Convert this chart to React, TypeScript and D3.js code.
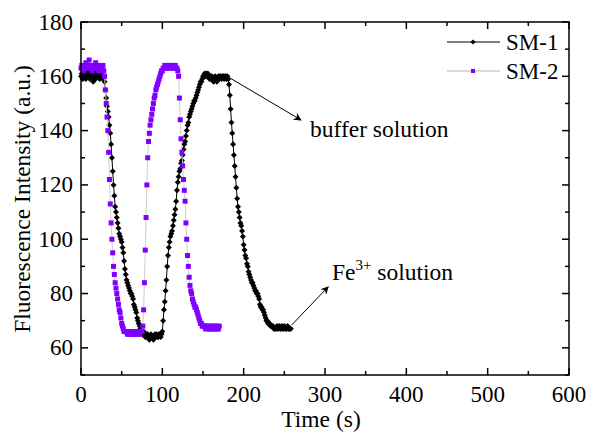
import * as d3 from 'd3'

// values read every 1 s from the picture
const sm1Value = [
  160, 161, 159, 160, 161, 160, 159, 160, 162, 161,
  160, 159, 160, 161, 160, 158, 160, 161, 159, 160,
  162, 161, 160, 159, 160, 161, 160, 159, 160, 158,
  155, 152, 149, 147, 145, 142, 139, 135, 130, 125,
  120, 116, 112, 110, 108, 106, 104, 102, 101, 100,
  99, 97, 95, 92, 89, 87, 85, 84, 83, 82,
  81, 80, 80, 79, 78, 76, 75, 74, 73, 71,
  70, 69, 68, 67, 66, 65, 65, 66, 65, 64,
  64, 65, 65, 64, 63, 64, 65, 64, 64, 63,
  64, 65, 64, 65, 64, 64, 65, 65, 64, 65,
  66, 70, 74, 77, 81, 85, 90, 94, 97, 99,
  101, 102, 103, 105, 107, 109, 111, 114, 118, 121,
  123, 125, 126, 128, 129, 131, 133, 135, 136, 138,
  140, 142, 143, 145, 146, 147, 148, 149, 150, 151,
  151, 152, 153, 154, 155, 156, 157, 158, 158, 159,
  160, 160, 161, 160, 161, 160, 161, 160, 159, 160,
  159, 160, 159, 158, 159, 160, 159, 158, 159, 160,
  159, 160, 160, 159, 160, 160, 159, 160, 160, 159,
  160, 159, 157, 153, 148, 143, 139, 135, 131, 127,
  123, 119, 115, 112, 110, 108, 106, 105, 103, 101,
  98, 96, 94, 93, 91, 90, 88, 87, 86, 85,
  84, 84, 83, 82, 81, 81, 80, 80, 79, 78,
  76, 75, 75, 74, 74, 73, 72, 71, 70, 70,
  69, 69, 69, 68, 68, 68, 68, 67, 67, 67,
  67, 68, 67, 67, 68, 67, 67, 68, 67, 67,
  68, 67, 67, 67, 68, 67, 67, 67, 67,
]
const sm1Time = d3.range(0, sm1Value.length)

const sm2Value = [
  163, 164, 163, 162, 164, 163, 165, 164, 163, 164,
  166, 163, 164, 163, 162, 164, 163, 164, 165, 163,
  164, 163, 162, 164, 163, 164, 163, 164, 162, 160,
  155, 150, 145, 140, 132, 122, 113, 106, 100, 95,
  90, 87, 84, 82, 80, 78, 76, 74, 73, 71,
  69, 68, 67, 66, 66, 66, 66, 65, 66, 66,
  65, 66, 66, 65, 66, 66, 65, 66, 66, 65,
  66, 66, 65, 66, 66, 66, 68, 74, 84, 96,
  108, 120, 130, 136, 139, 142, 144, 146, 148, 150,
  152, 153, 155, 156, 157, 158, 159, 160, 161, 162,
  162, 163, 163, 164, 163, 164, 163, 164, 164, 163,
  164, 163, 164, 163, 164, 163, 164, 163, 163, 162,
  160, 152, 144, 137, 132, 127, 122, 118, 114, 106,
  100, 94, 90, 86, 83, 81, 80, 78, 77, 76,
  75, 75, 74, 73, 72, 71, 70, 69, 69, 68,
  68, 68, 68, 67, 68, 68, 67, 68, 67, 67,
  68, 67, 68, 67, 67, 68, 67, 68, 67, 67,
  68,
]
const sm2Time = d3.range(0, sm2Value.length)

const xTicks = [0, 100, 200, 300, 400, 500, 600]
const yTicks = [60, 80, 100, 120, 140, 160, 180]

const W = 592
const H = 436
const m = { top: 22, right: 23, bottom: 61, left: 81 }
const FONT = "'Liberation Serif', 'Times New Roman', Times, 'DejaVu Serif', serif"
const PURPLE = '#8000ff'
const FS_TICK = 23
const FS = 23.5

export default function App() {
  const x = d3.scaleLinear().domain([0, 600]).range([m.left, W - m.right])
  const y = d3.scaleLinear().domain([50, 180]).range([H - m.bottom, m.top])
  const [x0, x1] = x.range()
  const [y0, y1] = y.range()

  const sm1 = sm1Time.map((t, i) => [t, sm1Value[i]] as [number, number])
  const sm2 = sm2Time.map((t, i) => [t, sm2Value[i]] as [number, number])
  const line = d3.line<[number, number]>().x(d => x(d[0])).y(d => y(d[1]))

  const xMinor = d3.range(50, 600, 100)
  const yMinor = d3.range(50, 181, 20)

  const diamond = (cx: number, cy: number, r: number) =>
    `M${cx},${cy - r}L${cx + r},${cy}L${cx},${cy + r}L${cx - r},${cy}Z`

  // annotation arrows, in data units
  const bufArrow = { x1: 183, y1: 159.4, x2: 270.5, y2: 143.9 }
  const feArrow = { x1: 259, y1: 68.4, x2: 304, y2: 82.5 }

  return (
    <svg width={W} height={H} style={{ display: 'block', position: 'absolute', left: 0, top: 0, fontFamily: FONT }}>
      <defs>
        <marker id="ah" viewBox="0 0 10 10" refX="9" refY="5" markerWidth="10" markerHeight="8" orient="auto" markerUnits="userSpaceOnUse">
          <path d="M0,0L10,5L0,10L3,5Z" fill="#000" />
        </marker>
      </defs>
      <rect width={W} height={H} fill="#fff" />

      {/* SM-1 */}
      <path d={line(sm1) ?? ''} fill="none" stroke="#000" strokeWidth={1} />
      {sm1.map((d, i) => (
        <path key={'a' + i} d={diamond(x(d[0]), y(d[1]), 3)} fill="#000" />
      ))}

      {/* SM-2 */}
      <path d={line(sm2) ?? ''} fill="none" stroke="#cfcfcf" strokeWidth={1} />
      {sm2.map((d, i) => (
        <rect key={'b' + i} x={x(d[0]) - 2.5} y={y(d[1]) - 2.5} width={5} height={5} fill={PURPLE} />
      ))}

      {/* frame */}
      <rect x={x0} y={y1} width={x1 - x0} height={y0 - y1} fill="none" stroke="#000" strokeWidth={1.5} />
      {xTicks.map(t => (
        <g key={'xt' + t}>
          <line x1={x(t)} x2={x(t)} y1={y0} y2={y0 - 7} stroke="#000" strokeWidth={1.5} />
          <line x1={x(t)} x2={x(t)} y1={y1} y2={y1 + 7} stroke="#000" strokeWidth={1.5} />
          <text x={x(t)} y={y0 + 27} textAnchor="middle" fontSize={FS_TICK}>{t}</text>
        </g>
      ))}
      {xMinor.map(t => (
        <g key={'xm' + t}>
          <line x1={x(t)} x2={x(t)} y1={y0} y2={y0 - 4} stroke="#000" strokeWidth={1.5} />
          <line x1={x(t)} x2={x(t)} y1={y1} y2={y1 + 4} stroke="#000" strokeWidth={1.5} />
        </g>
      ))}
      {yTicks.map(t => (
        <g key={'yt' + t}>
          <line x1={x0} x2={x0 + 7} y1={y(t)} y2={y(t)} stroke="#000" strokeWidth={1.5} />
          <line x1={x1} x2={x1 - 7} y1={y(t)} y2={y(t)} stroke="#000" strokeWidth={1.5} />
          <text x={x0 - 8} y={y(t) + 7.5} textAnchor="end" fontSize={FS_TICK}>{t}</text>
        </g>
      ))}
      {yMinor.map(t => (
        <g key={'ym' + t}>
          <line x1={x0} x2={x0 + 4} y1={y(t)} y2={y(t)} stroke="#000" strokeWidth={1.5} />
          <line x1={x1} x2={x1 - 4} y1={y(t)} y2={y(t)} stroke="#000" strokeWidth={1.5} />
        </g>
      ))}

      {/* axis titles */}
      <text x={321} y={427} textAnchor="middle" fontSize={FS}>Time (s)</text>
      <text transform={`translate(30,199) rotate(-90)`} textAnchor="middle" fontSize={FS}>
        Fluorescence Intensity (a.u.)
      </text>

      {/* legend */}
      <line x1={447} x2={500} y1={42} y2={42} stroke="#000" strokeWidth={1} />
      <path d={diamond(473, 42, 2.6)} fill="#000" />
      <text x={506} y={50} fontSize={FS_TICK}>SM-1</text>
      <line x1={447} x2={500} y1={71} y2={71} stroke="#cfcfcf" strokeWidth={1.5} />
      <rect x={471} y={69} width={4} height={4} fill={PURPLE} />
      <text x={506} y={78.5} fontSize={FS_TICK}>SM-2</text>

      {/* annotations */}
      <line x1={x(bufArrow.x1)} y1={y(bufArrow.y1)} x2={x(bufArrow.x2)} y2={y(bufArrow.y2)} stroke="#000" strokeWidth={1} markerEnd="url(#ah)" />
      <text x={310} y={137} fontSize={FS}>buffer solution</text>
      <line x1={x(feArrow.x1)} y1={y(feArrow.y1)} x2={x(feArrow.x2)} y2={y(feArrow.y2)} stroke="#000" strokeWidth={1} markerEnd="url(#ah)" />
      <text x={332} y={280} fontSize={FS}>
        Fe<tspan dy={-10} fontSize={15}>3+</tspan><tspan dy={10}> solution</tspan>
      </text>
    </svg>
  )
}
